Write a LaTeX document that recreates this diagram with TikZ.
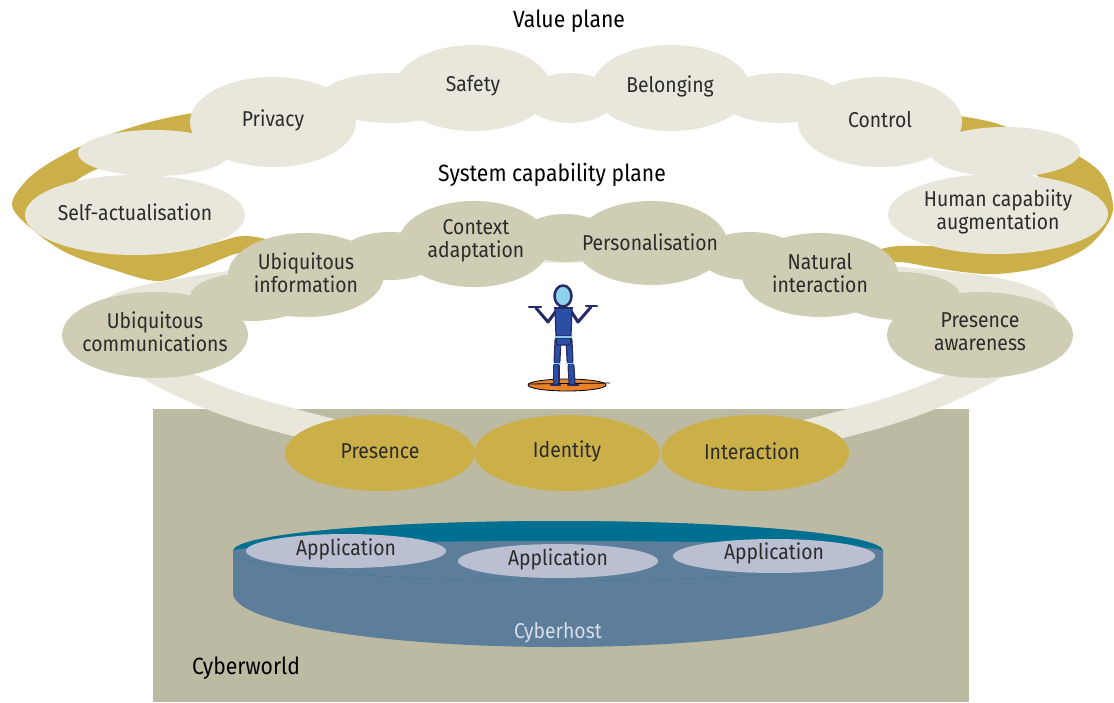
\documentclass[tikz,border=0pt]{standalone}
\usepackage{fontspec}
\setmainfont{Fira Sans}[FakeStretch=0.9]
\usetikzlibrary{shapes.geometric}

\definecolor{gold}{HTML}{CBB04A}
\definecolor{valcream}{HTML}{E9E7DC}
\definecolor{syscloud}{HTML}{D0CDB5}
\definecolor{worldgrey}{HTML}{BCBAA3}
\definecolor{hostblue}{HTML}{5C7E9A}
\definecolor{hostrim}{HTML}{007091}
\definecolor{appfill}{HTML}{BBBFD2}
\definecolor{hosttext}{HTML}{D9DDEB}
\definecolor{ink}{HTML}{2B2B2B}
\definecolor{figblue}{HTML}{2B4FA3}
\definecolor{fignavy}{HTML}{262A66}
\definecolor{fighead}{HTML}{8FD0EA}
\definecolor{figlight}{HTML}{8CC8EA}
\definecolor{discorange}{HTML}{E8812A}

\begin{document}
\begin{tikzpicture}[x=1pt,y=-1pt,
  lbl/.style={font=\fontsize{21.5}{23}\selectfont, text=ink, align=center, inner sep=0pt},
  head/.style={font=\fontsize{23.5}{26}\selectfont, text=black, inner sep=0pt},
  hostlbl/.style={font=\fontsize{21.5}{23}\selectfont, text=hosttext, inner sep=0pt},
  limb/.style={line width=7pt, line cap=round, fignavy},
  limbfill/.style={line width=4.5pt, line cap=round, figblue}
]
% canvas
\fill[white] (0,0) rectangle (1114,702);
\useasboundingbox (0,0) rectangle (1114,702);

% value plane ring (gold band, the hole is left white)
\fill[gold, even odd rule]
  plot[smooth cycle, tension=0.55] coordinates {
    (12,205) (30,177) (67,153) (117,132) (193,113) (380,88) (565,80)
    (760,88) (960,116) (1010,128) (1060,146) (1100,172) (1113,205)
    (1105,228) (1083,250) (1043,267) (997,274) (963,272) (930,267)
    (897,262) (860,268) (750,272) (650,265) (565,255) (390,258)
    (300,258) (245,252) (200,268) (160,281) (117,271) (67,253) (33,230)}
  plot[smooth cycle, tension=0.55] coordinates {
    (60,210) (80,178) (150,150) (250,130) (400,112) (565,108) (760,112)
    (900,130) (990,150) (1040,178) (1060,215) (1040,242) (960,246)
    (900,246) (875,250) (820,258) (750,262) (650,250) (565,240)
    (390,245) (300,245) (245,236) (200,245) (120,240)};

% cyberworld block
\fill[worldgrey] (153,409) rectangle (969,702);

% system capability ring (cream band)
\draw[valcream, line width=27pt]
  plot[smooth, tension=0.6] coordinates {
    (350,437) (250,410) (185,385) (120,348) (108,318) (140,300)
    (250,281) (400,259) (565,249) (730,259) (880,278) (1000,292)
    (1045,315) (1020,350) (950,388) (880,414) (790,437)};

% value plane clouds
\fill[valcream] (154,153) ellipse [x radius=76pt, y radius=23pt];
\fill[valcream] (390,98) ellipse [x radius=70pt, y radius=25pt];
\fill[valcream] (570,98) ellipse [x radius=45pt, y radius=25pt];
\fill[valcream] (780,98) ellipse [x radius=60pt, y radius=25pt];
\fill[valcream] (1005,152) ellipse [x radius=75pt, y radius=25pt];
\fill[valcream] (135,215) ellipse [x radius=110pt, y radius=40pt];
\fill[valcream] (273,122) ellipse [x radius=83pt, y radius=45pt];
\fill[valcream] (473,88) ellipse [x radius=78pt, y radius=43pt];
\fill[valcream] (671,88) ellipse [x radius=79pt, y radius=43pt];
\fill[valcream] (880,122) ellipse [x radius=82pt, y radius=45pt];
\fill[valcream] (998,214) ellipse [x radius=110pt, y radius=40pt];

% system capability clouds
\fill[syscloud] (250,297) ellipse [x radius=60pt, y radius=24pt];
\fill[syscloud] (390,256) ellipse [x radius=50pt, y radius=24pt];
\fill[syscloud] (565,238) ellipse [x radius=45pt, y radius=24pt];
\fill[syscloud] (750,256) ellipse [x radius=50pt, y radius=24pt];
\fill[syscloud] (900,296) ellipse [x radius=60pt, y radius=24pt];
\fill[syscloud] (155,335) ellipse [x radius=93pt, y radius=43pt];
\fill[syscloud] (306,275) ellipse [x radius=78pt, y radius=42pt];
\fill[syscloud] (474,244) ellipse [x radius=76pt, y radius=43pt];
\fill[syscloud] (651,243) ellipse [x radius=76pt, y radius=42pt];
\fill[syscloud] (820,275) ellipse [x radius=78pt, y radius=42pt];
\fill[syscloud] (980,335) ellipse [x radius=93pt, y radius=43pt];

% user interface ellipses
\fill[gold] (380,453) ellipse [x radius=95pt, y radius=38pt];
\fill[gold] (567,453) ellipse [x radius=93pt, y radius=38pt];
\fill[gold] (755,453) ellipse [x radius=94pt, y radius=38pt];

% cyberhost cylinder
\fill[hostblue] (233,551) -- (233,593)
  arc[start angle=180, end angle=360, x radius=325pt, y radius=54pt]
  -- (883,551)
  arc[start angle=0, end angle=180, x radius=325pt, y radius=30pt] -- cycle;
\fill[hostrim] (558,551) ellipse [x radius=325pt, y radius=30pt];
\fill[hostblue] (233,551)
  arc[start angle=180, end angle=360, x radius=325pt, y radius=30pt]
  arc[start angle=0, end angle=180, x radius=325pt, y radius=10pt] -- cycle;
\fill[appfill] (346,551) ellipse [x radius=100pt, y radius=17pt];
\fill[appfill] (558,561) ellipse [x radius=100pt, y radius=17pt];
\fill[appfill] (774,556) ellipse [x radius=101pt, y radius=17pt];

% the user standing on a disc
\fill[discorange] (567,385) ellipse [x radius=39pt, y radius=6pt];
\draw[black, line width=0.8pt] (567,385) ellipse [x radius=39pt, y radius=6pt];
\draw[black, line width=0.8pt] (528,384) -- (610,383);
% arms
\draw[fignavy, line width=3pt, line cap=round, line join=round]
  (556,311) -- (548,322) -- (536,308);
\draw[fignavy, line width=3pt, line cap=round, line join=round]
  (571,311) -- (578,322) -- (591,307);
\draw[fignavy, line width=2.5pt, line cap=round] (529,307) -- (541,307);
\draw[fignavy, line width=2.5pt, line cap=round] (586,306) -- (597,306);
% legs
\draw[limb] (558,340) -- (557,361);
\draw[limb] (569,340) -- (570,361);
\draw[limb] (556,366) -- (556,382);
\draw[limb] (571,366) -- (572,382);
\draw[limbfill] (558,340) -- (557,361);
\draw[limbfill] (569,340) -- (570,361);
\draw[limbfill] (556,366) -- (556,382);
\draw[limbfill] (571,366) -- (572,382);
\draw[fignavy, line width=2.5pt, line cap=round] (551,385) -- (560,385);
\draw[fignavy, line width=2.5pt, line cap=round] (568,385) -- (578,385);
% torso
\filldraw[fill=figblue, draw=fignavy, line width=1.2pt]
  (555,308) -- (572,308) -- (571,336) -- (556,336) -- cycle;
\filldraw[fill=figblue, draw=fignavy, line width=1.2pt]
  (556,338) -- (571,338) -- (570,345) -- (557,345) -- cycle;
\draw[figlight, line width=1.5pt] (555,337) -- (572,337);
\draw[figlight, line width=1.2pt] (554,363.5) -- (561,363.5);
\draw[figlight, line width=1.2pt] (566,363.5) -- (573,363.5);
\draw[fignavy, line width=2pt] (554,308) -- (573,308);
% head
\filldraw[fill=fighead, draw=fignavy, line width=2.5pt]
  (563,296) ellipse [x radius=8.5pt, y radius=10.5pt];

% labels: planes
\node[head] (valueplane) at (569,21) {Value plane};
\node[head] (sysplane) at (552,175) {System capability plane};
\node[head] (cyberworld) at (246,668) {Cyberworld};

% labels: value plane
\node[lbl] (selfact) at (135,212) {Self-actualisation};
\node[lbl] (privacy) at (273,120) {Privacy};
\node[lbl] (safety) at (473,86) {Safety};
\node[lbl] (belonging) at (670,86) {Belonging};
\node[lbl] (control) at (880,120) {Control};
\node[lbl] (humancap) at (998,212) {Human capabiity\\augmentation};

% labels: system capability plane
\node[lbl] (ubicomm) at (155,332) {Ubiquitous\\communications};
\node[lbl] (ubiinfo) at (306,273) {Ubiquitous\\information};
\node[lbl] (context) at (476,241) {Context\\adaptation};
\node[lbl] (personal) at (650,242) {Personalisation};
\node[lbl] (natural) at (820,273) {Natural\\interaction};
\node[lbl] (presaware) at (980,332) {Presence\\awareness};

% labels: user interface
\node[lbl] (presence) at (380,451) {Presence};
\node[lbl] (identity) at (567,451) {Identity};
\node[lbl] (interaction) at (752,451) {Interaction};

% labels: cyberhost
\node[lbl] (app1) at (346,549) {Application};
\node[lbl] (app2) at (558,559) {Application};
\node[lbl] (app3) at (774,553) {Application};
\node[hostlbl] (cyberhost) at (558,633) {Cyberhost};
\end{tikzpicture}
\end{document}
